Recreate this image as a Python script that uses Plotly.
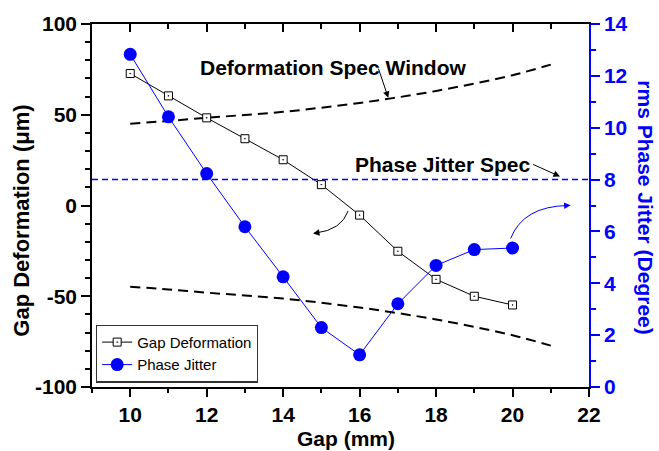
import plotly.graph_objects as go

gap = [10, 11, 12, 13, 14, 15, 16, 17, 18, 19, 20]
gap_deformation = [72.7, 60.4, 48.3, 36.8, 25.2, 11.5, -5.3, -25.2, -40.7, -50.0, -54.8]
phase_jitter = [12.83, 10.42, 8.23, 6.18, 4.25, 2.29, 1.24, 3.21, 4.69, 5.30, 5.36]

spec_gap = [10, 11, 12, 13, 14, 15, 16, 17, 18, 19, 20, 21]
spec_upper = [45.1, 46.6, 48.3, 49.9, 51.6, 53.9, 56.5, 59.6, 63.1, 67.2, 71.8, 77.6]
spec_lower = [-44.7, -46.3, -48.0, -49.6, -51.3, -53.6, -56.2, -59.3, -62.8, -66.9, -71.5, -77.2]

jitter_spec_gap = [9, 22]
jitter_spec = [8, 8]

y_ticks = [-100, -50, 0, 50, 100]
y_ticktext = ["-100", "-50", "0", "50", "100"]
y2_ticks = [0, 2, 4, 6, 8, 10, 12, 14]
x_ticks = [10, 12, 14, 16, 18, 20, 22]

FONT = "Liberation Sans, Arial, sans-serif"
BLUE = "#0000FF"

fig = go.Figure()

fig.add_trace(go.Scatter(x=spec_gap, y=spec_upper, mode="lines",
                         line=dict(color="black", width=2, dash="10px,6px", shape="spline"),
                         showlegend=False, hoverinfo="skip"))
fig.add_trace(go.Scatter(x=spec_gap, y=spec_lower, mode="lines",
                         line=dict(color="black", width=2, dash="10px,6px", shape="spline"),
                         showlegend=False, hoverinfo="skip"))

fig.add_trace(go.Scatter(x=gap, y=gap_deformation, mode="lines+markers", name="Gap Deformation",
                         line=dict(color="black", width=1),
                         marker=dict(symbol="square-dot", size=8, color="white",
                                     line=dict(color="black", width=1))))

fig.add_trace(go.Scatter(x=jitter_spec_gap, y=jitter_spec, mode="lines", yaxis="y2",
                         line=dict(color=BLUE, width=1.5, dash="6px,4px"),
                         showlegend=False, hoverinfo="skip"))

fig.add_trace(go.Scatter(x=gap, y=phase_jitter, mode="lines+markers", name="Phase Jitter", yaxis="y2",
                         line=dict(color=BLUE, width=1),
                         marker=dict(symbol="circle", size=13, color=BLUE)))

# invisible carrier so the top (inside-tick) axis is drawn
fig.add_trace(go.Scatter(x=[gap[0]], y=[phase_jitter[0]], xaxis="x2", yaxis="y2", mode="markers",
                         marker=dict(opacity=0), showlegend=False, hoverinfo="skip"))

tickfont = dict(family=FONT, size=21, color="black", weight="bold")

fig.update_layout(
    width=659, height=451,
    margin=dict(l=92, r=70, t=18, b=64),
    paper_bgcolor="white", plot_bgcolor="white",
    font=dict(family=FONT),
    xaxis=dict(range=[9, 22], tickvals=x_ticks, ticks="outside", ticklen=8, tickwidth=1.5,
               tickcolor="black", showline=True, linecolor="black", linewidth=1.5,
               showgrid=False, zeroline=False, tickfont=tickfont, autorange=False,
               minor=dict(dtick=1, ticks="outside", ticklen=4, tickwidth=1.5, tickcolor="black")),
    xaxis2=dict(range=[9, 22], overlaying="x", side="top", anchor="y2", tickvals=x_ticks,
                ticks="inside", ticklen=8, tickwidth=1.5, tickcolor="black", autorange=False,
                showline=True, linecolor="black", linewidth=1.5, showticklabels=False,
                showgrid=False, zeroline=False,
                minor=dict(dtick=1, ticks="inside", ticklen=5, tickwidth=1.5, tickcolor="black")),
    yaxis=dict(range=[-100, 100], autorange=False, tickvals=y_ticks, ticktext=y_ticktext, ticks="outside",
               ticklen=9, tickwidth=1.5, tickcolor="black", showline=True, linecolor="black",
               linewidth=1.5, showgrid=False, zeroline=False, tickfont=tickfont,
               minor=dict(dtick=10, ticks="outside", ticklen=5, tickwidth=1.5, tickcolor="black")),
    yaxis2=dict(range=[0, 14], autorange=False, overlaying="y", side="right", anchor="x", tickvals=y2_ticks,
                ticks="outside", ticklen=9, tickwidth=1.5, tickcolor=BLUE, showline=True,
                linecolor=BLUE, linewidth=1.5, showgrid=False, zeroline=False,
                tickfont=dict(family=FONT, size=21, color=BLUE, weight="bold"),
                minor=dict(dtick=1, ticks="outside", ticklen=5, tickwidth=1.5, tickcolor=BLUE)),
    legend=dict(x=0.008, y=0.012, xanchor="left", yanchor="bottom", bgcolor="white",
                bordercolor="#333333", borderwidth=1.2, font=dict(family=FONT, size=15, color="black"),
                tracegroupgap=0, itemwidth=30),
)

annfont = dict(family=FONT, size=21, color="black", weight="bold")
titlefont = dict(family=FONT, size=21, color="black", weight="bold")

fig.add_annotation(text="Deformation Spec Window", x=15.315, y=76.2, xref="x", yref="y",
                   showarrow=False, font=annfont, xanchor="center", yanchor="middle")
fig.add_annotation(text="Phase Jitter Spec", x=18.17, y=22.6, xref="x", yref="y",
                   showarrow=False, font=annfont, xanchor="center", yanchor="middle")

# straight arrows
fig.add_annotation(x=16.75, y=59.3, ax=16.48, ay=76.2, xref="x", yref="y", axref="x", ayref="y",
                   text="", showarrow=True, arrowhead=2, arrowsize=1.3, arrowwidth=1, arrowcolor="black")
fig.add_annotation(x=21.24, y=16.0, ax=20.50, ay=23.0, xref="x", yref="y", axref="x", ayref="y",
                   text="", showarrow=True, arrowhead=2, arrowsize=1.3, arrowwidth=1, arrowcolor="black")

# curved arrows
fig.add_shape(type="path", xref="x", yref="y",
              path="M 15.70,-3.0 Q 15.53,-13.4 14.85,-15.2",
              line=dict(color="black", width=1))
fig.add_annotation(x=14.78, y=-15.4, ax=14.95, ay=-14.9, xref="x", yref="y", axref="x", ayref="y",
                   text="", showarrow=True, arrowhead=2, arrowsize=1.3, arrowwidth=1, arrowcolor="black")
fig.add_shape(type="path", xref="x", yref="y",
              path="M 19.95,-18.2 Q 20.28,-0.4 21.45,0.0",
              line=dict(color=BLUE, width=1))
fig.add_annotation(x=21.52, y=0.1, ax=21.3, ay=-0.2, xref="x", yref="y", axref="x", ayref="y",
                   text="", showarrow=True, arrowhead=2, arrowsize=1.3, arrowwidth=1, arrowcolor=BLUE)

# axis titles
fig.add_annotation(text="Gap (mm)", x=0.512, y=-0.143, xref="paper", yref="paper",
                   showarrow=False, font=titlefont, xanchor="center", yanchor="middle")
fig.add_annotation(text="Gap Deformation (μm)", x=-0.141, y=0.458, xref="paper", yref="paper",
                   showarrow=False, font=dict(family=FONT, size=22, color="black", weight="bold"),
                   textangle=-90, xanchor="center", yanchor="middle")
fig.add_annotation(text="rms Phase Jitter (Degree)", x=1.112, y=0.496, xref="paper", yref="paper",
                   showarrow=False, font=dict(family=FONT, size=21, color=BLUE, weight="bold"),
                   textangle=90, xanchor="center", yanchor="middle")

fig.write_html("out.html")
